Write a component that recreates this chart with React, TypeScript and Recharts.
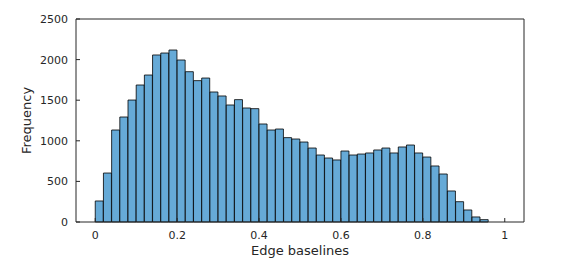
import { ComposedChart, Bar, XAxis, YAxis } from "recharts";

// histogram counts, bins of width 0.02 starting at 0
const BIN_WIDTH = 0.02;
const COUNTS = [
  259, 603, 1133, 1293, 1502, 1687, 1810, 2057, 2081, 2118,
  1995, 1851, 1741, 1773, 1601, 1552, 1441, 1507, 1404, 1396,
  1207, 1133, 1145, 1039, 1022, 985, 911, 825, 788, 764,
  874, 825, 837, 850, 887, 911, 850, 924, 948, 850,
  800, 690, 591, 382, 250, 148, 62, 29,
];
const X_TICKS = [0, 0.2, 0.4, 0.6, 0.8, 1];
const Y_TICKS = [0, 500, 1000, 1500, 2000, 2500];
const X_DOMAIN: [number, number] = [-0.047, 1.047];
const Y_DOMAIN: [number, number] = [0, 2500];

const data = COUNTS.map((count, i) => ({
  x: +((i + 0.5) * BIN_WIDTH).toFixed(3),
  count,
}));

const AXIS = "#262626";
const FONT = "DejaVu Sans, sans-serif";
const tickStyle = { fontSize: 11, fontFamily: FONT, fill: AXIS };
const labelStyle = { fontSize: 13, fontFamily: FONT, fill: AXIS };

export default function App() {
  return (
    <div style={{ width: 580, height: 260, background: "#fff" }}>
      <style>{`body{margin:0}`}</style>
      <ComposedChart
        width={580}
        height={260}
        data={data}
        margin={{ top: 18, right: 55, bottom: 8, left: 10 }}
        barCategoryGap={0}
        barGap={0}
      >
        <XAxis
          dataKey="x"
          type="number"
          domain={X_DOMAIN}
          ticks={X_TICKS}
          allowDataOverflow
          height={30}
          stroke={AXIS}
          tickSize={-4}
          tickMargin={13}
          tick={tickStyle}
          label={{ value: "Edge baselines", position: "insideBottom", offset: -3, style: labelStyle }}
        />
        <XAxis
          xAxisId="top"
          orientation="top"
          dataKey="x"
          type="number"
          domain={X_DOMAIN}
          ticks={X_TICKS}
          allowDataOverflow
          height={1}
          stroke={AXIS}
          tickSize={-4}
          tick={false}
        />
        <YAxis
          domain={Y_DOMAIN}
          ticks={Y_TICKS}
          width={66}
          stroke={AXIS}
          tickSize={-4}
          tickMargin={12}
          tick={tickStyle}
          label={{ value: "Frequency", angle: -90, position: "insideLeft", offset: 16, style: { ...labelStyle, textAnchor: "middle" } }}
        />
        <YAxis
          yAxisId="right"
          orientation="right"
          domain={Y_DOMAIN}
          ticks={Y_TICKS}
          width={1}
          stroke={AXIS}
          tickSize={-4}
          tick={false}
        />
        <Bar dataKey="count" fill="#66aad7" stroke="#000" strokeWidth={0.8} isAnimationActive={false} />
        <Bar xAxisId="top" yAxisId="right" dataKey="none" isAnimationActive={false} legendType="none" />
      </ComposedChart>
    </div>
  );
}
